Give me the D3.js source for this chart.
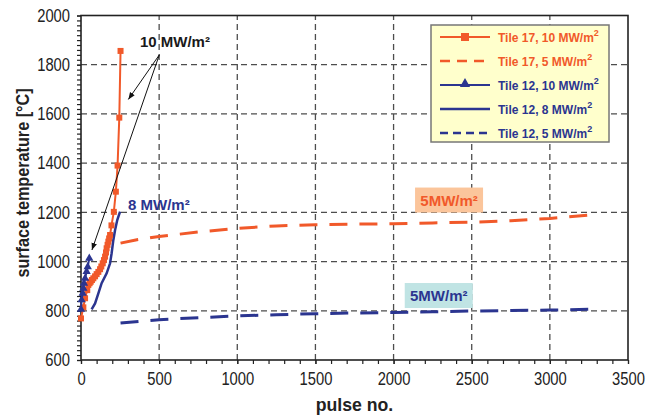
<!DOCTYPE html>
<html>
<head>
<meta charset="utf-8">
<script src="https://cdn.jsdelivr.net/npm/d3@7"></script>
<style>
  body { margin: 0; background: #fff; }
  text { font-family: "Liberation Sans", Arial, sans-serif; }
</style>
</head>
<body>
<svg id="chart"></svg>
<script>
// values
var t17_10_x = [0, 15, 26, 40, 47, 55, 62, 70, 79, 90, 100, 111, 122, 130, 139, 147, 154, 160, 164, 170, 175, 180, 186, 195, 210, 223, 234, 245, 253];
var t17_10_y = [769, 814, 851, 884, 905, 912, 918, 925, 932, 940, 949, 958, 969, 980, 993, 1006, 1020, 1037, 1054, 1068, 1081, 1094, 1108, 1147, 1202, 1284, 1390, 1585, 1856];

var t17_5_x = [253, 350, 500, 750, 1000, 1250, 1500, 1750, 2000, 2250, 2500, 2750, 3000, 3250];
var t17_5_y = [1075, 1088, 1102, 1120, 1135, 1145, 1150, 1152, 1154, 1157, 1160, 1166, 1175, 1189];

var t12_10_x = [0, 4, 11, 15, 19, 26, 36, 43, 53];
var t12_10_y = [806, 844, 871, 891, 912, 932, 959, 979, 1013];

var t12_8_x = [68, 90, 111, 132, 164, 186, 196, 207, 218, 232, 250];
var t12_8_y = [806, 830, 871, 912, 952, 993, 1034, 1088, 1128, 1169, 1203];

var t12_5_x = [253, 500, 750, 1000, 1250, 1500, 1750, 2000, 2250, 2500, 2750, 3000, 3250];
var t12_5_y = [750, 764, 772, 779, 784, 788, 791, 793, 796, 799, 801, 803, 806];

var xTicks = [0, 500, 1000, 1500, 2000, 2500, 3000, 3500];
var yTicks = [600, 800, 1000, 1200, 1400, 1600, 1800, 2000];

var legendNames = ["Tile 17, 10 MW/m", "Tile 17, 5 MW/m", "Tile 12, 10 MW/m", "Tile 12, 8 MW/m", "Tile 12, 5 MW/m"];

var orange = "#f1592a";
var navy = "#2b3590";

var width = 648, height = 416;
var svg = d3.select("#chart").attr("width", width).attr("height", height);

var x = d3.scaleLinear().domain([0, 3500]).range([81, 628]);
var y = d3.scaleLinear().domain([600, 2000]).range([360, 15.5]);

function zip(xs, ys) {
  return xs.map(function(v, i) { return [v, ys[i]]; });
}

// squeeze text a bit, the axis labels in the picture are narrow
function squeeze(sel, f) {
  sel.each(function() {
    var l = this.getComputedTextLength();
    d3.select(this).attr("textLength", l * f).attr("lengthAdjust", "spacingAndGlyphs");
  });
}

// grid
svg.selectAll("line.vgrid")
   .data(xTicks.slice(1, -1))
   .enter()
   .append("line")
   .attr("x1", function(d) { return x(d); })
   .attr("x2", function(d) { return x(d); })
   .attr("y1", y(600))
   .attr("y2", y(2000))
   .attr("stroke", "#4d4d4d")
   .attr("stroke-width", 1.3)
   .attr("stroke-dasharray", "6,4");

svg.selectAll("line.hgrid")
   .data(yTicks.slice(1, -1))
   .enter()
   .append("line")
   .attr("x1", x(0))
   .attr("x2", x(3500))
   .attr("y1", function(d) { return y(d); })
   .attr("y2", function(d) { return y(d); })
   .attr("stroke", "#4d4d4d")
   .attr("stroke-width", 1.3)
   .attr("stroke-dasharray", "6,4");

// axes
var xMinor = svg.append("g")
   .attr("transform", "translate(0," + y(600) + ")")
   .call(d3.axisBottom(x).tickValues(d3.range(0, 3501, 100)).tickSize(4).tickFormat(""));
var yMinor = svg.append("g")
   .attr("transform", "translate(" + x(0) + ",0)")
   .call(d3.axisLeft(y).tickValues(d3.range(600, 2001, 20)).tickSize(4).tickFormat(""));

var xAxis = svg.append("g")
   .attr("transform", "translate(0," + y(600) + ")")
   .call(d3.axisBottom(x).tickValues(xTicks).tickSize(4).tickPadding(8).tickFormat(d3.format("d")));
var yAxis = svg.append("g")
   .attr("transform", "translate(" + x(0) + ",0)")
   .call(d3.axisLeft(y).tickValues(yTicks).tickSize(4).tickPadding(7).tickFormat(d3.format("d")));

[xMinor, yMinor, xAxis, yAxis].forEach(function(g) {
  g.selectAll("line").attr("stroke", "#222").attr("stroke-width", 1.2);
  g.select(".domain").remove();
});
xAxis.selectAll("text").attr("font-size", 18).attr("fill", "#222").attr("font-family", "Liberation Sans, Arial");
yAxis.selectAll("text").attr("font-size", 18).attr("fill", "#222").attr("font-family", "Liberation Sans, Arial");
squeeze(xAxis.selectAll("text"), 0.82);
squeeze(yAxis.selectAll("text"), 0.82);

// frame
svg.append("rect")
   .attr("x", x(0))
   .attr("y", y(2000))
   .attr("width", x(3500) - x(0))
   .attr("height", y(600) - y(2000))
   .attr("fill", "none")
   .attr("stroke", "#222")
   .attr("stroke-width", 1.6);

// axis titles
var xt = svg.append("text")
   .text("pulse no.")
   .attr("x", (x(0) + x(3500)) / 2)
   .attr("y", 411)
   .attr("text-anchor", "middle")
   .attr("font-weight", "bold")
   .attr("font-size", 19)
   .attr("fill", "#222");
squeeze(xt, 0.93);

var yt = svg.append("text")
   .text("surface temperature [°C]")
   .attr("transform", "translate(29,183) rotate(-90)")
   .attr("text-anchor", "middle")
   .attr("font-weight", "bold")
   .attr("font-size", 18)
   .attr("fill", "#222");
squeeze(yt, 0.9);

// series
var line = d3.line().x(function(d) { return x(d[0]); }).y(function(d) { return y(d[1]); });

svg.append("path")
   .datum(zip(t17_5_x, t17_5_y))
   .attr("d", line)
   .attr("fill", "none")
   .attr("stroke", orange)
   .attr("stroke-width", 3)
   .attr("stroke-dasharray", "18,12");

svg.append("path")
   .datum(zip(t12_5_x, t12_5_y))
   .attr("d", line)
   .attr("fill", "none")
   .attr("stroke", navy)
   .attr("stroke-width", 3)
   .attr("stroke-dasharray", "18,12");

svg.append("path")
   .datum(zip(t12_8_x, t12_8_y))
   .attr("d", line)
   .attr("fill", "none")
   .attr("stroke", navy)
   .attr("stroke-width", 2.5);

svg.append("path")
   .datum(zip(t17_10_x, t17_10_y))
   .attr("d", line)
   .attr("fill", "none")
   .attr("stroke", orange)
   .attr("stroke-width", 2);

svg.selectAll("rect.sq")
   .data(zip(t17_10_x, t17_10_y))
   .enter()
   .append("rect")
   .attr("x", function(d) { return x(d[0]) - 3; })
   .attr("y", function(d) { return y(d[1]) - 3; })
   .attr("width", 6)
   .attr("height", 6)
   .attr("fill", orange);

svg.append("path")
   .datum(zip(t12_10_x, t12_10_y))
   .attr("d", line)
   .attr("fill", "none")
   .attr("stroke", navy)
   .attr("stroke-width", 2);

var tri = d3.symbol().type(d3.symbolTriangle).size(30);
svg.selectAll("path.tri")
   .data(zip(t12_10_x, t12_10_y))
   .enter()
   .append("path")
   .attr("d", tri)
   .attr("transform", function(d) { return "translate(" + x(d[0]) + "," + y(d[1]) + ")"; })
   .attr("fill", navy);

// annotations
svg.append("defs").append("marker")
   .attr("id", "arr")
   .attr("viewBox", "0 0 10 10")
   .attr("refX", 10)
   .attr("refY", 5)
   .attr("markerWidth", 7)
   .attr("markerHeight", 7)
   .attr("orient", "auto")
   .append("path")
   .attr("d", "M0,1 L10,5 L0,9 Z")
   .attr("fill", "#111");

var arrowEnds = [[303, 1659], [70, 1047]];
svg.selectAll("line.arrow")
   .data(arrowEnds)
   .enter()
   .append("line")
   .attr("x1", x(501))
   .attr("y1", y(1840))
   .attr("x2", function(d) { return x(d[0]); })
   .attr("y2", function(d) { return y(d[1]); })
   .attr("stroke", "#111")
   .attr("stroke-width", 1)
   .attr("marker-end", "url(#arr)");

svg.append("text")
   .text("10 MW/m²")
   .attr("x", x(377))
   .attr("y", y(1874))
   .attr("font-weight", "bold")
   .attr("font-size", 15)
   .attr("fill", "#1a1a1a");

svg.append("text")
   .text("8 MW/m²")
   .attr("x", x(301))
   .attr("y", y(1210))
   .attr("font-weight", "bold")
   .attr("font-size", 15)
   .attr("fill", navy);

var boxes = [
  { cx: 2355, cy: 1250, fill: "#fbc59b", color: orange },
  { cx: 2289, cy: 862, fill: "#c0e4e4", color: navy }
];
boxes.forEach(function(b) {
  svg.append("rect")
     .attr("x", x(b.cx) - 34)
     .attr("y", y(b.cy) - 12.5)
     .attr("width", 68)
     .attr("height", 25)
     .attr("fill", b.fill);
  svg.append("text")
     .text("5MW/m²")
     .attr("x", x(b.cx))
     .attr("y", y(b.cy) + 5.5)
     .attr("text-anchor", "middle")
     .attr("font-weight", "bold")
     .attr("font-size", 15)
     .attr("fill", b.color);
});

// legend
var lg = svg.append("g").attr("transform", "translate(431,25)");
lg.append("rect")
  .attr("width", 178)
  .attr("height", 117)
  .attr("fill", "#ffffcc")
  .attr("stroke", "#777")
  .attr("stroke-width", 1.5);

var legendColors = [orange, orange, navy, navy, navy];
var legendDash = [null, "10,7", null, null, "8,5"];
var rowY = [12, 36, 60, 84, 108];

legendNames.forEach(function(name, i) {
  lg.append("line")
    .attr("x1", 9).attr("x2", 59)
    .attr("y1", rowY[i]).attr("y2", rowY[i])
    .attr("stroke", legendColors[i])
    .attr("stroke-width", i == 0 || i == 2 ? 2 : 2.5)
    .attr("stroke-dasharray", legendDash[i]);
  var t = lg.append("text")
    .attr("x", 67)
    .attr("y", rowY[i] + 4.5)
    .attr("font-weight", "bold")
    .attr("font-size", 12)
    .attr("fill", legendColors[i]);
  t.append("tspan").text(name);
  t.append("tspan").text("2").attr("font-size", 9).attr("dy", -6);
});
lg.append("rect")
  .attr("x", 30).attr("y", rowY[0] - 4)
  .attr("width", 8).attr("height", 8)
  .attr("fill", orange);
lg.append("path")
  .attr("d", d3.symbol().type(d3.symbolTriangle).size(45))
  .attr("transform", "translate(34," + (rowY[2] - 1) + ")")
  .attr("fill", navy);
</script>
</body>
</html>
